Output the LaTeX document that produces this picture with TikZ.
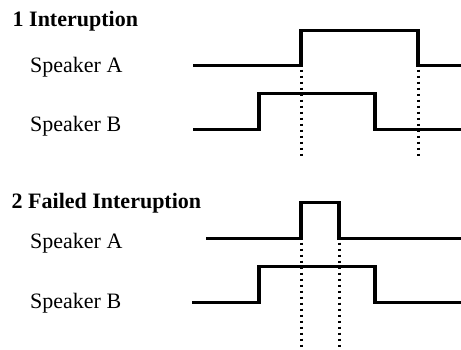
\documentclass[tikz,border=0pt]{standalone}
\usepackage{fontspec}
\setmainfont{Liberation Serif}
\begin{document}
\begin{tikzpicture}[x=1pt,y=-1pt,
  signal/.style={line width=3.2pt, line join=miter},
  marker/.style={line width=3pt, dash pattern=on 2.6pt off 3.4pt},
  title/.style={anchor=base west, inner sep=0pt, font=\fontsize{22}{26}\selectfont\bfseries},
  label/.style={anchor=base west, inner sep=0pt, font=\fontsize{22}{26}\selectfont}]
\useasboundingbox (0,0) rectangle (461,349);
% Panel 1
\node[title] (t1) at (12.5,26.5) {1 Interuption};
\node[label] (a1) at (30,72.5) {Speaker A};
\node[label] (b1) at (30,131) {Speaker B};
\coordinate (a1r) at (301,65.5);
\coordinate (a1f) at (418,65.5);
\draw[signal] (193,65.5) -- (a1r) -- (301,30.5) -- (418,30.5) -- (a1f) -- (462,65.5);
\draw[signal] (193,129.5) -- (259,129.5) -- (259,93.5) -- (375,93.5) -- (375,129.5) -- (462,129.5);
\coordinate (d1a) at (301,156);
\coordinate (d1b) at (418,156);
\draw[marker] (a1r) ++(0,4) -- (d1a);
\draw[marker] (a1f) ++(0,4) -- (d1b);
% Panel 2
\node[title] (t2) at (11.5,208.5) {2 Failed Interuption};
\node[label] (a2) at (30,248.5) {Speaker A};
\node[label] (b2) at (30,308.5) {Speaker B};
\coordinate (a2r) at (301,238.5);
\coordinate (a2f) at (339,238.5);
\draw[signal] (206,238.5) -- (a2r) -- (301,202.5) -- (339,202.5) -- (a2f) -- (462,238.5);
\draw[signal] (192,302.5) -- (259,302.5) -- (259,266.5) -- (375,266.5) -- (375,302.5) -- (462,302.5);
\coordinate (d2a) at (301,349);
\coordinate (d2b) at (339,349);
\draw[marker] (a2r) ++(0,4) -- (d2a);
\draw[marker] (a2f) ++(0,4) -- (d2b);
\end{tikzpicture}
\end{document}
